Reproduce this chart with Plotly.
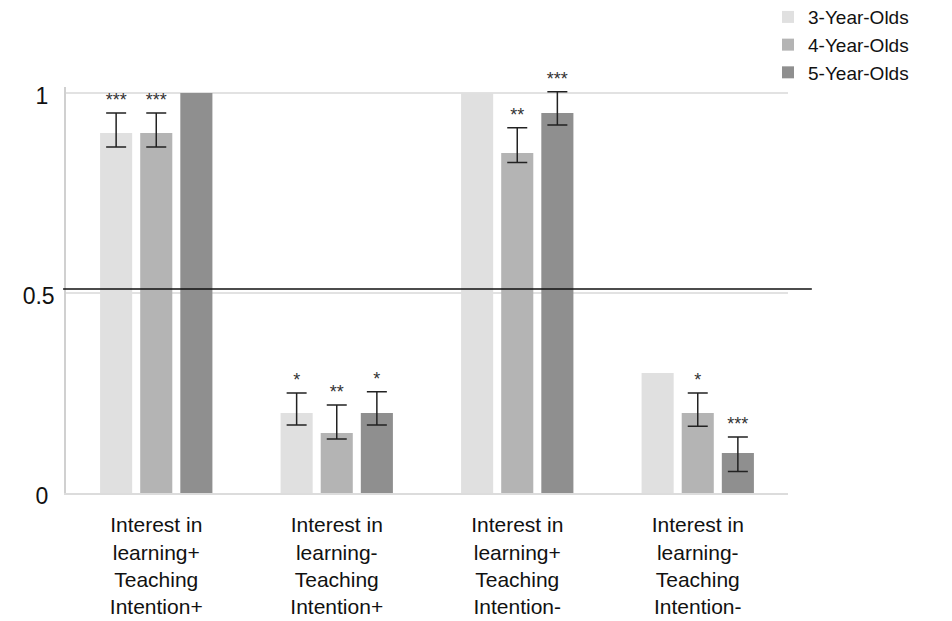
import plotly.graph_objects as go

categories = [
    "Interest in<br>learning+<br>Teaching<br>Intention+",
    "Interest in<br>learning-<br>Teaching<br>Intention+",
    "Interest in<br>learning+<br>Teaching<br>Intention-",
    "Interest in<br>learning-<br>Teaching<br>Intention-",
]
series_names = ["3-Year-Olds", "4-Year-Olds", "5-Year-Olds"]

values_3yo = [0.90, 0.20, 1.00, 0.30]
values_4yo = [0.90, 0.15, 0.85, 0.20]
values_5yo = [1.00, 0.20, 0.95, 0.10]

err_plus_3yo = [0.05, 0.05, None, None]
err_minus_3yo = [0.035, 0.03, None, None]
err_plus_4yo = [0.05, 0.07, 0.063, 0.05]
err_minus_4yo = [0.035, 0.015, 0.024, 0.033]
err_plus_5yo = [None, 0.053, 0.053, 0.04]
err_minus_5yo = [None, 0.03, 0.03, 0.046]

stars_3yo = ["***", "*", "", ""]
stars_4yo = ["***", "**", "**", "*"]
stars_5yo = ["", "*", "***", "***"]

chance_level = 0.51
y_tick_vals = [0, 0.5, 1]
y_tick_text = ["0", "0.5", "1"]

colors = ["#e0e0e0", "#b4b4b4", "#8f8f8f"]
FONT = "Liberation Sans, Arial, sans-serif"

all_values = [values_3yo, values_4yo, values_5yo]
all_plus = [err_plus_3yo, err_plus_4yo, err_plus_5yo]
all_minus = [err_minus_3yo, err_minus_4yo, err_minus_5yo]
all_stars = [stars_3yo, stars_4yo, stars_5yo]

fig = go.Figure()

for name, vals, col in zip(series_names, all_values, colors):
    fig.add_trace(go.Bar(
        name=name, x=categories, y=vals, marker=dict(color=col, line=dict(width=0)),
        offsetgroup=name, hoverinfo="skip",
    ))

# error bars + significance stars, on transparent overlay bars reaching the error-bar top
for name, vals, plus, minus, stars in zip(series_names, all_values, all_plus, all_minus, all_stars):
    xs, tops, up, down, txt = [], [], [], [], []
    for c, v, p, m, s in zip(categories, vals, plus, minus, stars):
        if p is None:
            continue
        xs.append(c)
        tops.append(v + p)
        up.append(0)
        down.append(p + m)
        txt.append(s)
    fig.add_trace(go.Bar(
        x=xs, y=tops, offsetgroup=name, showlegend=False,
        marker=dict(color="rgba(0,0,0,0)", line=dict(width=0)),
        error_y=dict(type="data", symmetric=False, array=up, arrayminus=down,
                     color="#222222", thickness=1.5, width=10),
        text=txt, textposition="outside", cliponaxis=False,
        textfont=dict(size=18, color="#333333", family=FONT),
        constraintext="none", hoverinfo="skip",
    ))

fig.add_shape(type="line", xref="paper", yref="y", x0=-0.004, x1=1.033,
              y0=chance_level, y1=chance_level, line=dict(color="#111111", width=1.5))

# the page body adds an 8px offset, so the figure is sized 944x613
W, H = 944, 613
fig.update_layout(
    width=W, height=H,
    margin=dict(l=58, r=164, t=79, b=128, autoexpand=False),
    paper_bgcolor="white", plot_bgcolor="white",
    barmode="group", bargap=1/3, bargroupgap=0.2,
    font=dict(family=FONT, color="#111111"),
    legend=dict(x=0.9723, xref="paper", xanchor="left", y=1.219, yref="paper",
                yanchor="top", font=dict(size=19, color="#111111"),
                bgcolor="rgba(0,0,0,0)", itemclick=False, tracegroupgap=0,
                borderwidth=0),
    showlegend=True,
)
fig.update_xaxes(
    showline=True, linecolor="#dcdcdc", linewidth=2, showgrid=False, ticks="",
    tickfont=dict(size=21, color="#111111"), ticklabelstandoff=12, automargin=False,
)
pad = {"0": "\u00a0", "1": "\u00a0", "0.5": ""}
fig.update_yaxes(
    range=[0, 1.015], tickvals=y_tick_vals, ticktext=[t + pad.get(t, "") for t in y_tick_text],
    showgrid=True, gridcolor="#e2e2e2", gridwidth=1.5, zeroline=False,
    showline=True, linecolor="#d0d0d0", linewidth=1.5, ticks="",
    tickfont=dict(size=23, color="#111111"), ticklabelstandoff=5, ticklabelshift=3,
    automargin=False,
)

fig.write_html("out.html")
